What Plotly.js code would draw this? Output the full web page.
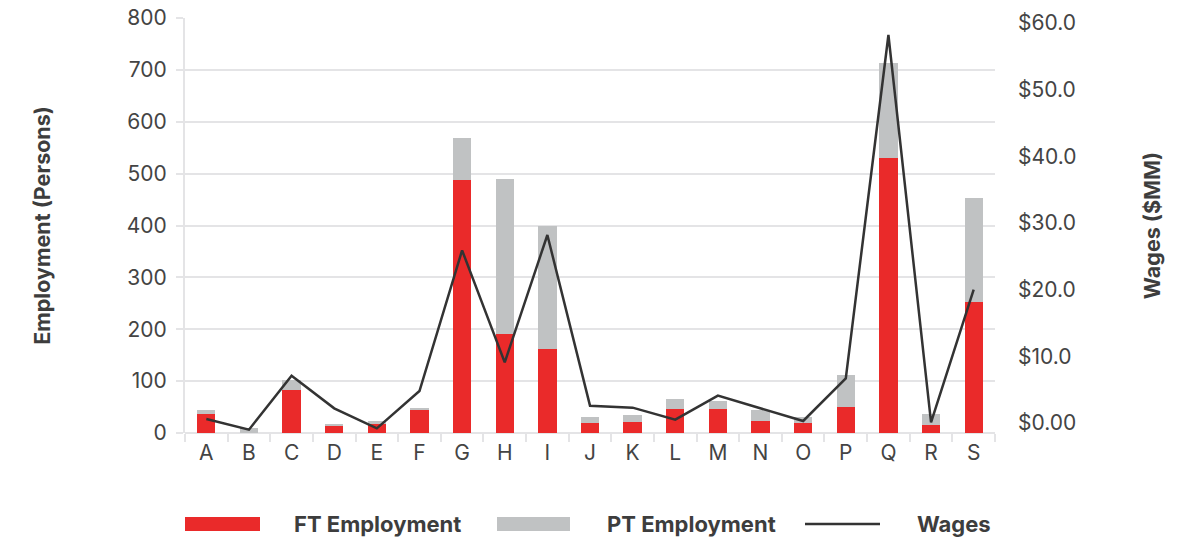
<!DOCTYPE html>
<html>
<head>
<meta charset="utf-8">
<script src="https://cdn.plot.ly/plotly-3.0.1.min.js"></script>
<style>
  html, body { margin: 0; padding: 0; background: #ffffff; }
  #chart { width: 1195px; height: 542px; }
</style>
</head>
<body>
<div id="chart"></div>
<script>
// ---- data ----
const categories = ["A","B","C","D","E","F","G","H","I","J","K","L","M","N","O","P","Q","R","S"];
const ftEmployment = [37, 0, 82, 13, 18, 44, 488, 191, 161, 20, 22, 47, 46, 24, 19, 50, 531, 16, 253];
const ptEmployment = [7, 10, 20, 4, 5, 4, 81, 299, 238, 11, 13, 19, 16, 20, 11, 62, 183, 21, 200];
const wages = [0.6, -1.0, 7.1, 2.2, -0.8, 4.8, 25.9, 9.1, 28.2, 2.6, 2.3, 0.5, 4.1, 2.2, 0.3, 6.7, 58.2, 0.1, 20.0];
const wageTickValues = [0, 10, 20, 30, 40, 50, 60];
const wageTickLabels = ["$0.00", "$10.0", "$20.0", "$30.0", "$40.0", "$50.0", "$60.0"];
const legendLabels = ["FT Employment", "PT Employment", "Wages"];

// ---- styles ----
const RED = "#ea2a2a";
const GREY = "#c0c2c3";
const LINE = "#333333";
const GRID = "#e4e4e6";
const TEXT = "#444444";
const FONT = "Inter, Lato, sans-serif";

// plot area in pixels
const W = 1195, H = 542;
const M = { l: 185, r: 200, t: 18, b: 109 };
const PW = W - M.l - M.r, PH = H - M.t - M.b;
const px = x => (x - M.l) / PW;
const py = y => (H - M.b - y) / PH;

const traces = [
  {
    type: "bar", name: legendLabels[0], x: categories, y: ftEmployment,
    marker: { color: RED }, showlegend: false, hoverinfo: "x+y"
  },
  {
    type: "bar", name: legendLabels[1], x: categories, y: ptEmployment,
    marker: { color: GREY }, showlegend: false, hoverinfo: "x+y"
  },
  {
    type: "scatter", mode: "lines", name: legendLabels[2], x: categories, y: wages,
    yaxis: "y2", line: { color: LINE, width: 2.5 }, showlegend: false
  }
];

// custom legend (swatches + labels)
const legY = 524;
const shapes = [
  { type: "rect", xref: "paper", yref: "paper", x0: px(185), x1: px(260), y0: py(531), y1: py(517),
    fillcolor: RED, line: { width: 0 } },
  { type: "rect", xref: "paper", yref: "paper", x0: px(497), x1: px(570), y0: py(531), y1: py(517),
    fillcolor: GREY, line: { width: 0 } },
  { type: "line", xref: "paper", yref: "paper", x0: px(805), x1: px(880), y0: py(legY), y1: py(legY),
    line: { color: LINE, width: 2.5 } }
];
const legFont = { family: FONT, size: 22, color: "#3d3d3d" };
const annotations = [
  { text: "<b>" + legendLabels[0] + "</b>", x: px(292), y: py(legY) },
  { text: "<b>" + legendLabels[1] + "</b>", x: px(605), y: py(legY) },
  { text: "<b>" + legendLabels[2] + "</b>", x: px(915), y: py(legY) }
].map(a => Object.assign(a, {
  xref: "paper", yref: "paper", xanchor: "left", yanchor: "middle",
  showarrow: false, font: legFont
}));

const layout = {
  width: W, height: H,
  margin: M,
  paper_bgcolor: "#ffffff", plot_bgcolor: "#ffffff",
  barmode: "stack", bargap: 0.57,
  font: { family: FONT, color: TEXT, size: 21 },
  showlegend: false,
  xaxis: {
    type: "category", range: [-0.5, 18.5],
    showgrid: false, zeroline: false, showline: false,
    ticks: "outside", tickson: "boundaries", ticklen: 8, tickwidth: 2, tickcolor: GRID,
    tickfont: { family: FONT, size: 21, color: TEXT }, ticklabelstandoff: 5
  },
  yaxis: {
    range: [0, 800], dtick: 100, tick0: 0,
    showgrid: true, gridcolor: GRID, gridwidth: 2,
    zeroline: true, zerolinecolor: GRID, zerolinewidth: 2,
    showline: true, linecolor: GRID, linewidth: 2,
    ticks: "outside", ticklen: 7, tickwidth: 2, tickcolor: GRID,
    tickfont: { family: FONT, size: 21, color: TEXT }, ticklabelstandoff: 5,
    title: { text: "<b>Employment (Persons)</b>", standoff: 70,
             font: { family: FONT, size: 21.5, color: "#3d3d3d" } }
  },
  yaxis2: {
    overlaying: "y", side: "right",
    range: [-1.5, 60.75],
    tickvals: wageTickValues, ticktext: wageTickLabels,
    showgrid: false, zeroline: false, showline: false, ticks: "",
    tickfont: { family: FONT, size: 21, color: TEXT }, ticklabelstandoff: 22,
    title: { text: "<b>Wages ($MM)</b>", standoff: 69,
             font: { family: FONT, size: 21.5, color: "#3d3d3d" } }
  },
  shapes: shapes,
  annotations: annotations
};

Plotly.newPlot("chart", traces, layout, { displayModeBar: false, responsive: false });
</script>
</body>
</html>
